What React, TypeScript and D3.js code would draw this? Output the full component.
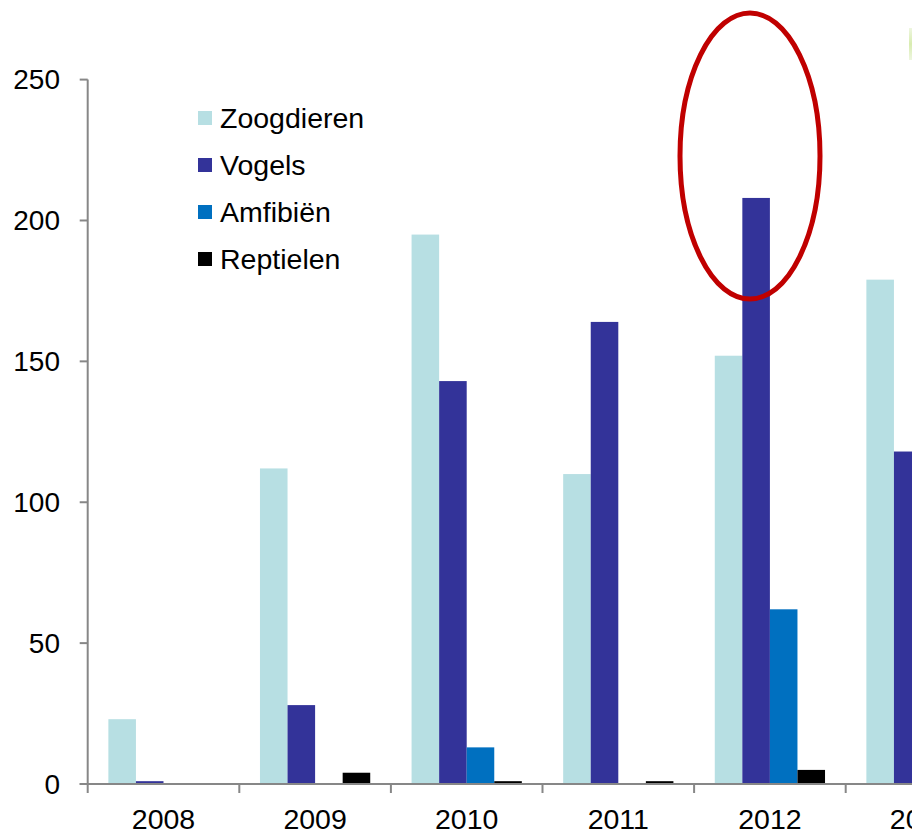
import React from "react";
import * as d3 from "d3";

const years = ["2008", "2009", "2010", "2011", "2012", "2013"];
const seriesNames = ["Zoogdieren", "Vogels", "Amfibiën", "Reptielen"];
const seriesColors = ["#b7dfe3", "#333399", "#0070c0", "#000000"];
const zoogdieren = [23, 112, 195, 110, 152, 179];
const vogels = [1, 28, 143, 164, 208, 118];
const amfibien = [0, 0, 13, 0, 62, 20];
const reptielen = [0, 4, 1, 1, 5, 2];
const yTicks = [0, 50, 100, 150, 200, 250];

const W = 912;
const H = 835;
const FONT = "'Liberation Sans', Arial, sans-serif";

export default function App() {
  const values = [zoogdieren, vogels, amfibien, reptielen];
  const x0 = 87.7;
  const band = 151.6;
  const x = d3
    .scaleBand<string>()
    .domain(years)
    .range([x0, x0 + band * years.length])
    .paddingInner(0)
    .paddingOuter(0);
  const inner = d3
    .scaleBand<string>()
    .domain(seriesNames)
    .range([0, band])
    .paddingInner(0)
    .paddingOuter(0.75);
  const y = d3.scaleLinear().domain([0, 250]).range([784, 79.6]);
  const axisColor = "#878787";

  return (
    <svg
      width={W}
      height={H}
      style={{ position: "absolute", left: 0, top: 0, background: "#fff" }}
    >
      <rect x={0} y={0} width={W} height={H} fill="#ffffff" />
      <defs>
        <linearGradient id="grn" x1="0" y1="0" x2="0" y2="1">
          <stop offset="0" stopColor="#eef6e0" />
          <stop offset="0.5" stopColor="#d8ecb0" />
          <stop offset="1" stopColor="#eef6e0" />
        </linearGradient>
      </defs>
      <rect x={909} y={28} width={3} height={32} fill="url(#grn)" />

      {/* bars */}
      {years.map((yr, i) => (
        <g key={yr}>
          {seriesNames.map((s, j) => {
            const v = values[j][i];
            if (v <= 0) return null;
            const bx = (x(yr) as number) + (inner(s) as number);
            return (
              <rect
                key={s}
                x={bx}
                y={y(v)}
                width={inner.bandwidth()}
                height={y(0) - y(v)}
                fill={seriesColors[j]}
              />
            );
          })}
        </g>
      ))}

      {/* y axis */}
      <line x1={x0} x2={x0} y1={y(250)} y2={y(0)} stroke={axisColor} strokeWidth={2} />
      {yTicks.map((t) => (
        <g key={t}>
          <line x1={x0 - 8} x2={x0} y1={y(t)} y2={y(t)} stroke={axisColor} strokeWidth={2} />
          <text
            x={60}
            y={y(t)}
            textAnchor="end"
            dominantBaseline="central"
            fontFamily={FONT}
            fontSize={28}
            fill="#000"
          >
            {t}
          </text>
        </g>
      ))}

      {/* x axis */}
      <line x1={x0 - 8} x2={W} y1={y(0)} y2={y(0)} stroke={axisColor} strokeWidth={2} />
      {years.map((yr) => (
        <line
          key={yr}
          x1={x(yr) as number}
          x2={x(yr) as number}
          y1={y(0)}
          y2={y(0) + 9}
          stroke={axisColor}
          strokeWidth={2}
        />
      ))}
      {years.map((yr) => (
        <text
          key={yr}
          x={(x(yr) as number) + x.bandwidth() / 2}
          y={829}
          textAnchor="middle"
          fontFamily={FONT}
          fontSize={28.5}
          fill="#000"
        >
          {yr}
        </text>
      ))}

      {/* legend */}
      {seriesNames.map((s, j) => (
        <g key={s} transform={`translate(198, ${118 + j * 47})`}>
          <rect x={0} y={-7} width={14} height={14} fill={seriesColors[j]} />
          <text
            x={22}
            y={0}
            dominantBaseline="central"
            fontFamily={FONT}
            fontSize={28.5}
            fill="#000"
          >
            {s}
          </text>
        </g>
      ))}

      {/* highlight ellipse */}
      <ellipse cx={750} cy={156} rx={70} ry={143} fill="none" stroke="#c00000" strokeWidth={5} />
    </svg>
  );
}
